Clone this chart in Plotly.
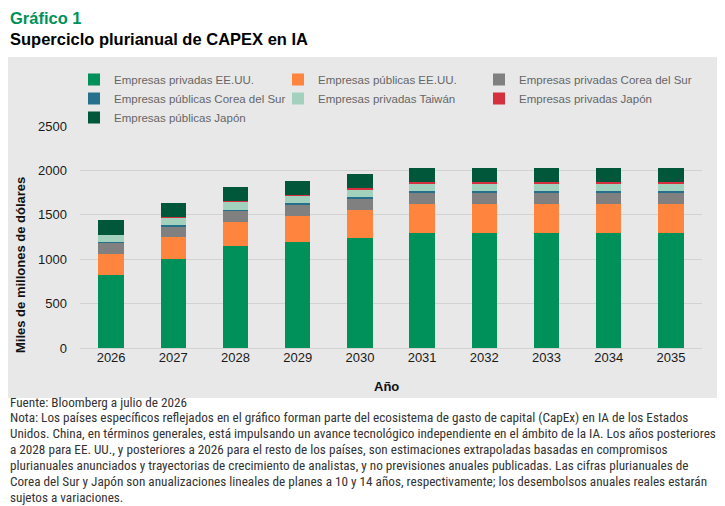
import plotly.graph_objects as go

years = ["2026", "2027", "2028", "2029", "2030", "2031", "2032", "2033", "2034", "2035"]

priv_us = [825, 1000, 1150, 1190, 1240, 1295, 1295, 1295, 1295, 1295]
pub_us = [235, 245, 270, 300, 315, 330, 330, 330, 330, 330]
priv_kr = [125, 128, 127, 127, 130, 123, 123, 123, 123, 123]
pub_kr = [10, 12, 12, 11, 12, 15, 15, 15, 15, 15]
priv_tw = [80, 82, 90, 94, 93, 94, 94, 94, 94, 94]
priv_jp = [3, 3, 5, 5, 10, 12, 12, 12, 12, 12]
pub_jp = [165, 165, 158, 156, 158, 160, 160, 160, 160, 160]

# name, values, colour, legend column
series = [
    ("Empresas privadas EE.UU.", priv_us, "#00915A", "legend"),
    ("Empresas públicas EE.UU.", pub_us, "#FF853F", "legend2"),
    ("Empresas privadas Corea del Sur", priv_kr, "#808080", "legend3"),
    ("Empresas públicas Corea del Sur", pub_kr, "#26708C", "legend"),
    ("Empresas privadas Taiwán", priv_tw, "#A2D2BE", "legend2"),
    ("Empresas privadas Japón", priv_jp, "#D4303D", "legend3"),
    ("Empresas públicas Japón", pub_jp, "#00573A", "legend"),
]

nota_lines = [
    "Nota: Los países específicos reflejados en el gráfico forman parte del ecosistema de gasto de capital (CapEx) en IA de los Estados",
    "Unidos. China, en términos generales, está impulsando un avance tecnológico independiente en el ámbito de la IA. Los años posteriores",
    "a 2028 para EE. UU., y posteriores a 2026 para el resto de los países, son estimaciones extrapoladas basadas en compromisos",
    "plurianuales anunciados y trayectorias de crecimiento de analistas, y no previsiones anuales publicadas. Las cifras plurianuales de",
    "Corea del Sur y Japón son anualizaciones lineales de planes a 10 y 14 años, respectivamente; los desembolsos anuales reales estarán",
    "sujetos a variaciones.",
]

fig = go.Figure()
for name, vals, col, leg in series:
    fig.add_trace(go.Bar(x=years, y=vals, name=name, marker_color=col,
                         marker_line_width=0, legend=leg))

panel = "#E8E8E8"
# the page body has an 8px margin, so the figure is 8px smaller and
# positions below are given in window pixels and shifted back
OFF = 8
W, H = 725 - OFF, 506 - OFF
L, R, T, B = 80 - OFF, 23, 126 - OFF, 158
pw, ph = W - L - R, H - T - B


def px_x(x):
    return (x - OFF - L) / pw


def px_y(y):
    return (H - B - (y - OFF)) / ph


fig.add_shape(type="rect", xref="paper", yref="paper",
              x0=px_x(OFF), x1=px_x(722), y0=px_y(398), y1=px_y(57),
              fillcolor=panel, line_width=0, layer="below")

foot_font = dict(family="Liberation Sans Narrow, Arial Narrow, Roboto Condensed, sans-serif",
                 size=13.2, color="#333333")
bold = "Liberation Sans"

title_txt = ("<b><span style='color:#00915A'>Gráfico 1</span><br>"
             "Superciclo plurianual de CAPEX en IA</b>")

annotations = [
    dict(text=title_txt, x=px_x(9), y=px_y(OFF), xanchor="left", yanchor="top",
         align="left", borderpad=0,
         font=dict(family=bold, size=16.5, color="#000000")),
    dict(text="<b>Miles de millones de dólares</b>", x=px_x(20), y=px_y(265), textangle=-90,
         xanchor="center", yanchor="middle",
         font=dict(family=bold, size=13, color="#111111")),
    dict(text="<b>Año</b>", x=px_x(386), y=px_y(386), xanchor="center", yanchor="middle",
         font=dict(family=bold, size=13, color="#111111")),
    dict(text="Fuente: Bloomberg a julio de 2026", x=px_x(8), y=px_y(402),
         xanchor="left", yanchor="middle", font=foot_font),
]
for i, line in enumerate(nota_lines):
    annotations.append(dict(text=line, x=px_x(8), y=px_y(417.5 + 15.9 * i),
                            xanchor="left", yanchor="middle", font=foot_font))
for a in annotations:
    a.update(xref="paper", yref="paper", showarrow=False)

leg_font = dict(family="Liberation Sans", size=11.5, color="#666666")


def legend_at(x):
    return dict(orientation="v", x=px_x(x), y=px_y(65), xanchor="left", yanchor="top",
                traceorder="normal", font=leg_font, bgcolor="rgba(0,0,0,0)",
                itemclick=False, itemdoubleclick=False)


fig.update_layout(
    width=W, height=H,
    margin=dict(l=L, r=R, t=T, b=B),
    barmode="stack",
    bargap=0.59,
    paper_bgcolor="white",
    plot_bgcolor=panel,
    font=dict(family="Liberation Sans", color="#222222"),
    annotations=annotations,
    legend=legend_at(74),
    legend2=legend_at(278),
    legend3=legend_at(479),
    xaxis=dict(showgrid=False, showline=False, ticks="", tickfont=dict(size=13, color="#1a1a1a")),
    yaxis=dict(range=[0, 2500], dtick=500, gridcolor="#D2D2D2", gridwidth=1,
               zeroline=True, zerolinecolor="#D2D2D2", zerolinewidth=1,
               ticks="", ticklabelstandoff=12, tickfont=dict(size=13, color="#1a1a1a")),
)

fig.write_html("out.html")
